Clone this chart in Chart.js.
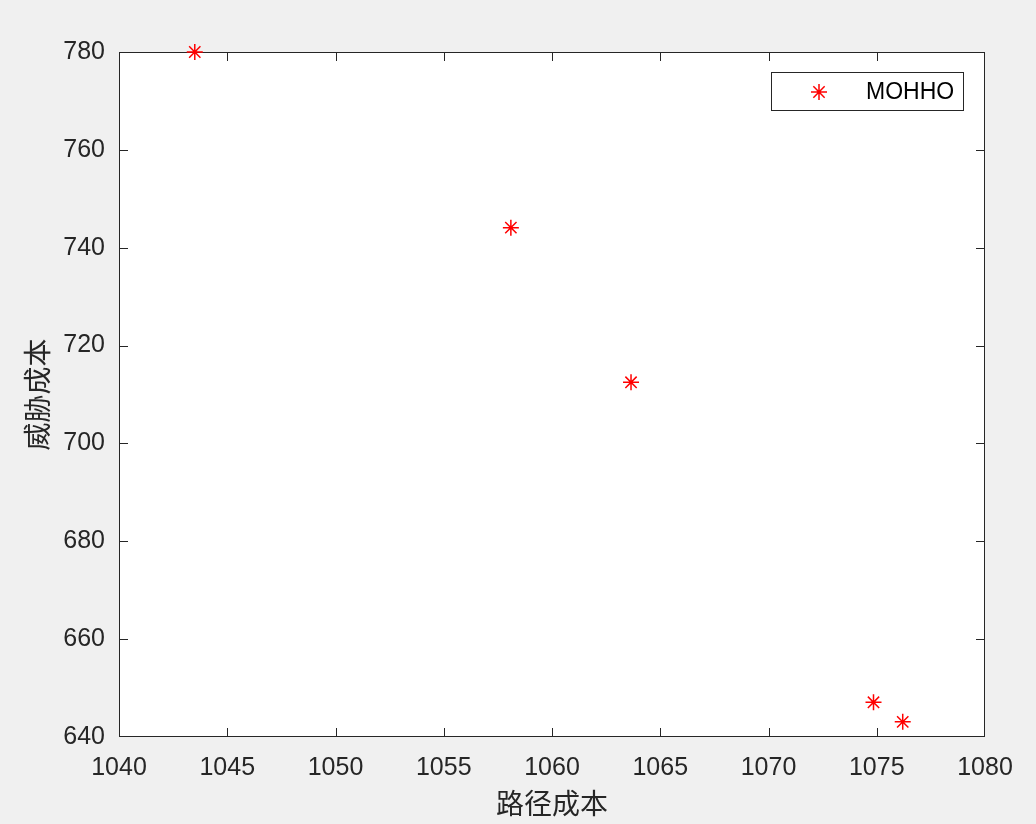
<!DOCTYPE html>
<html>
<head>
<meta charset="utf-8">
<script src="https://cdn.jsdelivr.net/npm/chart.js@4"></script>
<style>
  html, body { margin: 0; padding: 0; background: #f0f0f0; }
  #wrap { width: 1036px; height: 824px; }
</style>
</head>
<body>
<div id="wrap"><canvas id="chart"></canvas></div>
<script>
// 数据
const pathCost = [1043.5, 1058.1, 1063.65, 1074.85, 1076.2];
const threatCost = [780, 744.1, 712.5, 647.1, 643.1];
const seriesName = 'MOHHO';
const xLabel = '路径成本';
const yLabel = '威胁成本';

const axisColor = '#262626';
const tickFont = { family: 'Liberation Sans, Arial, sans-serif', size: 25 };
const cjkFont = '28px "Noto Sans CJK SC", sans-serif';

const points = pathCost.map((x, i) => ({ x, y: threatCost[i] }));

// 白色绘图区、边框、内侧刻度、标题、图例
const matlabStyle = {
  id: 'matlabStyle',
  beforeDraw(chart) {
    const { ctx, chartArea: a } = chart;
    ctx.save();
    ctx.fillStyle = '#ffffff';
    ctx.fillRect(a.left, a.top, a.right - a.left, a.bottom - a.top);
    ctx.restore();
  },
  beforeDatasetsDraw(chart) {
    const { ctx, chartArea: a, scales } = chart;
    ctx.save();
    ctx.strokeStyle = axisColor;
    ctx.lineWidth = 1;
    ctx.strokeRect(a.left + 0.5, a.top + 0.5, a.right - a.left - 1, a.bottom - a.top - 1);
    const len = 9;
    ctx.beginPath();
    scales.x.ticks.forEach(t => {
      const px = Math.min(Math.round(scales.x.getPixelForValue(t.value)), a.right - 1) + 0.5;
      ctx.moveTo(px, a.bottom); ctx.lineTo(px, a.bottom - len);
      ctx.moveTo(px, a.top); ctx.lineTo(px, a.top + len);
    });
    scales.y.ticks.forEach(t => {
      const py = Math.min(Math.round(scales.y.getPixelForValue(t.value)), a.bottom - 1) + 0.5;
      ctx.moveTo(a.left, py); ctx.lineTo(a.left + len, py);
      ctx.moveTo(a.right, py); ctx.lineTo(a.right - len, py);
    });
    ctx.stroke();

    // 坐标轴标题
    ctx.fillStyle = axisColor;
    ctx.font = cjkFont;
    ctx.textAlign = 'center';
    ctx.textBaseline = 'middle';
    ctx.fillText(xLabel, (a.left + a.right) / 2, 803);
    ctx.translate(37, (a.top + a.bottom) / 2);
    ctx.rotate(-Math.PI / 2);
    ctx.fillText(yLabel, 0, 0);
    ctx.restore();
  },
  afterDraw(chart) {
    const { ctx } = chart;
    const ds = chart.data.datasets[0];
    ctx.save();
    ctx.fillStyle = '#ffffff';
    ctx.fillRect(771, 72, 193, 39);
    ctx.strokeStyle = axisColor;
    ctx.lineWidth = 1;
    ctx.strokeRect(771.5, 72.5, 192, 38);
    ctx.strokeStyle = '#ff0000';
    ctx.lineWidth = 1.5;
    Chart.helpers.drawPoint(ctx, { pointStyle: 'star', radius: 8, borderWidth: 1.5 }, 819, 92);
    ctx.fillStyle = '#000000';
    ctx.font = '23px Liberation Sans, Arial, sans-serif';
    ctx.textAlign = 'left';
    ctx.textBaseline = 'middle';
    ctx.fillText(ds.label, 866, 93);
    ctx.restore();
  }
};

new Chart(document.getElementById('chart'), {
  type: 'scatter',
  data: {
    datasets: [{
      label: seriesName,
      data: points,
      pointStyle: 'star',
      pointRadius: 8,
      pointHoverRadius: 8,
      borderColor: '#ff0000',
      backgroundColor: '#ff0000',
      borderWidth: 1.5,
      clip: false
    }]
  },
  options: {
    responsive: true,
    maintainAspectRatio: false,
    animation: false,
    layout: { padding: { top: 52, right: 51, left: 0, bottom: 0 } },
    plugins: {
      legend: { display: false },
      tooltip: { enabled: false }
    },
    scales: {
      x: {
        type: 'linear',
        min: 1040,
        max: 1080,
        ticks: { stepSize: 5, color: axisColor, font: tickFont, padding: 8, maxRotation: 0,
                 callback: v => String(v) },
        grid: { display: false },
        border: { display: false },
        afterFit(s) { s.height = 87; }
      },
      y: {
        type: 'linear',
        min: 640,
        max: 780,
        ticks: { stepSize: 20, color: axisColor, font: tickFont, padding: 6,
                 callback: v => String(v) },
        grid: { display: false },
        border: { display: false },
        afterFit(s) { s.width = 119; }
      }
    }
  },
  plugins: [matlabStyle]
});
</script>
</body>
</html>
